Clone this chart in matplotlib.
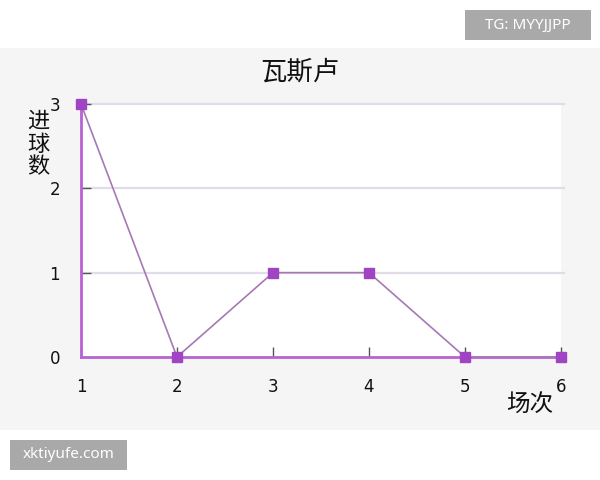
import matplotlib
matplotlib.use("Agg")
import matplotlib.pyplot as plt
from matplotlib.patches import Rectangle

plt.rcParams['font.family'] = ['Noto Sans CJK SC', 'DejaVu Sans']

matches = [1, 2, 3, 4, 5, 6]
goals = [3, 0, 1, 1, 0, 0]
yticks = [0, 1, 2, 3]
title = "瓦斯卢"
ylabel = "进\n球\n数"
xlabel = "场次"

W, H = 600, 480
fig = plt.figure(figsize=(6, 4.8), dpi=100)
fig.patch.set_facecolor('white')

# gray panel
fig.patches.append(Rectangle((0, 1 - 430 / H), 1, (430 - 48) / H,
                             transform=fig.transFigure, facecolor='#f5f5f5',
                             edgecolor='none', zorder=-10))

ax = fig.add_axes([81 / W, 1 - 357 / H, (561 - 81) / W, (357 - 104) / H])
ax.set_zorder(1)
ax.set_facecolor('white')
ax.set_xlim(1, 6)
ax.set_ylim(0, 3)

for y in yticks[1:]:
    ax.plot([1, 6.03], [y, y], color='#e2dcea', lw=1.6, zorder=1, clip_on=False)

ax.plot(matches, goals, color='#a678b4', lw=1.2, zorder=3, clip_on=False)
ax.plot(matches, goals, linestyle='none', marker='s', ms=7,
        markerfacecolor='#a044c4', markeredgecolor='#a044c4', zorder=4, clip_on=False)

for s in ['top', 'right']:
    ax.spines[s].set_visible(False)
for s in ['left', 'bottom']:
    ax.spines[s].set_color('#b862d4')
    ax.spines[s].set_linewidth(2)
    ax.spines[s].set_zorder(2)

ax.set_xticks(matches)
ax.set_xticklabels([str(m) for m in matches], family='DejaVu Sans')
ax.set_yticks(yticks)
ax.set_yticklabels([str(v) for v in yticks], family='DejaVu Sans')
ax.tick_params(axis='x', direction='in', length=7, width=1, color='#555555',
               pad=15, labelsize=12, labelcolor='#111111')
ax.tick_params(axis='y', direction='in', length=7, width=1, color='#555555',
               pad=15, labelsize=12, labelcolor='#111111')

fig.text(300 / W, 1 - 72 / H, title, ha='center', va='center', fontsize=19, color='#111111')
fig.text(38 / W, 1 - 144 / H, ylabel, ha='center', va='center', fontsize=16,
         linespacing=1.0, color='#111111')
fig.text(530 / W, 1 - 405 / H, xlabel, ha='center', va='center', fontsize=17, color='#111111')

# watermark boxes
fig.patches.append(Rectangle((465 / W, 1 - 40 / H), (591 - 465) / W, 30 / H,
                             transform=fig.transFigure, facecolor='#a9a9a9',
                             edgecolor='none', zorder=5))
fig.text(528 / W, 1 - 25 / H, "TG: MYYJJPP", ha='center', va='center',
         fontsize=11, color='white', family=['Noto Sans', 'DejaVu Sans'], zorder=6)
fig.patches.append(Rectangle((10 / W, 1 - 470 / H), (127 - 10) / W, 30 / H,
                             transform=fig.transFigure, facecolor='#a9a9a9',
                             edgecolor='none', zorder=5))
fig.text(68.5 / W, 1 - 455 / H, "xktiyufe.com", ha='center', va='center',
         fontsize=11, color='white', family=['Noto Sans', 'DejaVu Sans'], zorder=6)

fig.savefig('out.png', dpi=100)
